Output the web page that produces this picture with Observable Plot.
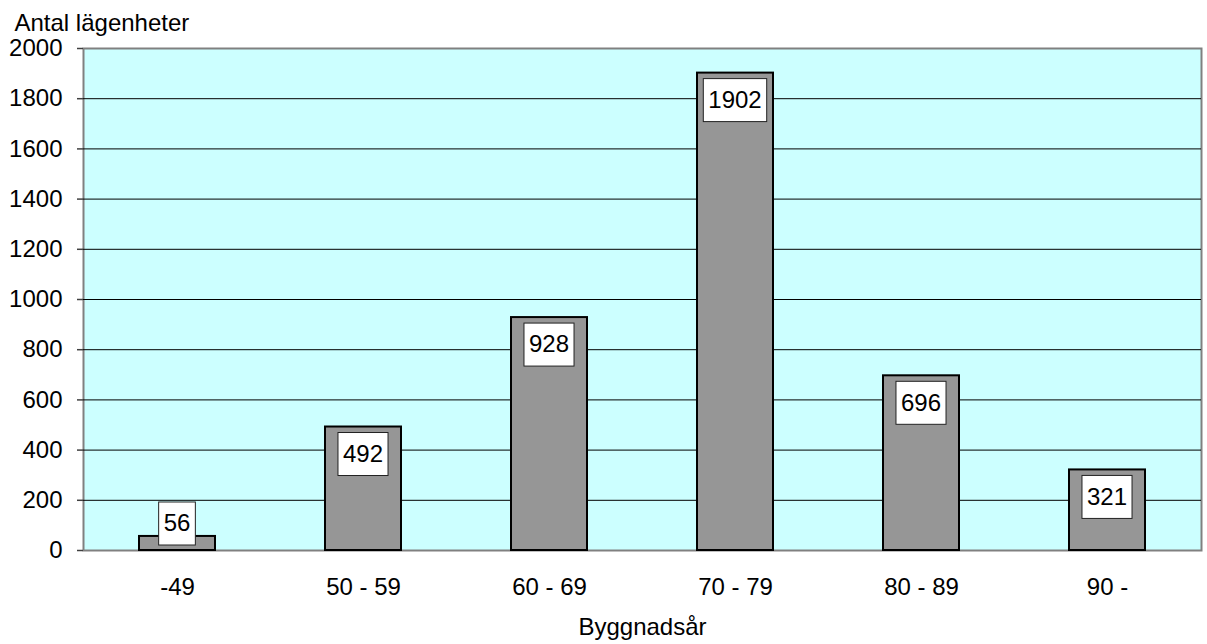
<!DOCTYPE html>
<html>
<head>
<meta charset="utf-8">
<script src="https://cdn.jsdelivr.net/npm/d3@7"></script>
<script src="https://cdn.jsdelivr.net/npm/@observablehq/plot@0.6"></script>
<style>
  html, body { margin: 0; padding: 0; background: #fff; }
</style>
</head>
<body>
<div id="chart"></div>
<script>
// Number of apartments by construction period
const periods = ["-49", "50 - 59", "60 - 69", "70 - 79", "80 - 89", "90 -"];
const apartments = [56, 492, 928, 1902, 696, 321];
const yTickValues = [0, 200, 400, 600, 800, 1000, 1200, 1400, 1600, 1800, 2000];
const gridValues = [200, 400, 600, 800, 1000, 1200, 1400, 1600, 1800];
const yTitle = "Antal lägenheter";
const xTitle = "Byggnadsår";

const rows = periods.map((p, i) => ({period: p, count: apartments[i]}));

const FONT = "'Liberation Sans', Arial, sans-serif";
const FONT_SIZE = 24;

const svgNS = "http://www.w3.org/2000/svg";
function el(doc, name, attrs) {
  const e = doc.createElementNS(svgNS, name);
  for (const k in attrs) e.setAttribute(k, attrs[k]);
  return e;
}

// measure label text width for the white value boxes
const measureCtx = document.createElement("canvas").getContext("2d");
measureCtx.font = `${FONT_SIZE}px ${FONT}`;

// Value labels in white boxes, placed just inside the top of each bar
function boxedLabels(index, scales, values, dimensions, context) {
  const doc = context.document;
  const sx = scales.x, sy = scales.y;
  const bw = sx.bandwidth();
  const base = sy(0);
  const g = el(doc, "g", {});
  for (const i of index) {
    const d = rows[i];
    const cx = sx(d.period) + bw / 2;
    const label = String(d.count);
    const w = measureCtx.measureText(label).width + 10;
    const h = 43;
    const top = Math.min(sy(d.count) + 6, base - 5 - h);
    g.appendChild(el(doc, "rect", {
      x: cx - w / 2, y: top, width: w, height: h,
      fill: "#fff", stroke: "#222", "stroke-width": 1
    }));
    const t = el(doc, "text", {
      x: cx, y: top + h / 2, dy: "0.33em", "text-anchor": "middle",
      "font-size": FONT_SIZE, "font-family": FONT, fill: "#000"
    });
    t.textContent = label;
    g.appendChild(t);
  }
  return g;
}

// Axis lines and category-boundary ticks on the x axis
function axisDecor(index, scales, values, dimensions, context) {
  const doc = context.document;
  const sx = scales.x, sy = scales.y;
  const step = sx.step();
  const bw = sx.bandwidth();
  const base = sy(0);
  const top = sy(2000);
  const left = dimensions.marginLeft;
  const g = el(doc, "g", {stroke: "#404040", "stroke-width": 2, fill: "none"});
  g.appendChild(el(doc, "line", {x1: left, x2: left, y1: top - 1, y2: base + 7}));
  g.appendChild(el(doc, "line", {x1: left, x2: dimensions.width - dimensions.marginRight, y1: base, y2: base}));
  const bounds = periods.map(p => sx(p) + bw / 2 - step / 2);
  bounds.push(sx(periods[periods.length - 1]) + bw / 2 + step / 2);
  bounds.forEach((bx, j) => {
    g.appendChild(el(doc, "line", {x1: bx, x2: bx, y1: base, y2: base + 7,
      "stroke-width": j === bounds.length - 1 ? 1 : 1.5}));
  });
  return g;
}

const chart = Plot.plot({
  width: 1207,
  height: 644,
  marginLeft: 83,
  marginRight: 6,
  marginTop: 48,
  marginBottom: 94,
  style: {fontFamily: FONT, fontSize: `${FONT_SIZE}px`, color: "#000", background: "#fff", overflow: "visible"},
  x: {domain: periods, paddingInner: 0.59, paddingOuter: 0.295, label: null},
  y: {domain: [0, 2000], label: null},
  marks: [
    Plot.frame({fill: "#CCFFFF", stroke: "#808080", strokeWidth: 2}),
    Plot.ruleY(gridValues, {stroke: "#000", strokeWidth: 1}),
    Plot.barY(rows, {x: "period", y: "count", fill: "#969696", stroke: "#000", strokeWidth: 2}),
    Plot.ruleX([0], {render: axisDecor}),
    Plot.axisY({ticks: yTickValues, tickSize: 6, tickPadding: 15, stroke: "#404040", strokeWidth: 1.5, fontSize: FONT_SIZE, label: null, tickFormat: d => String(d)}),
    Plot.axisX({tickSize: 0, tickPadding: 27, fontSize: FONT_SIZE, label: null}),
    Plot.text(rows, {x: "period", y: "count", text: d => String(d.count), render: boxedLabels}),
    Plot.text([yTitle], {frameAnchor: "top-left", dx: -69, dy: -35, textAnchor: "start", fontSize: FONT_SIZE, text: d => d}),
    Plot.text([xTitle], {frameAnchor: "bottom", dy: 84, fontSize: FONT_SIZE, text: d => d})
  ]
});

document.getElementById("chart").appendChild(chart);
</script>
</body>
</html>
